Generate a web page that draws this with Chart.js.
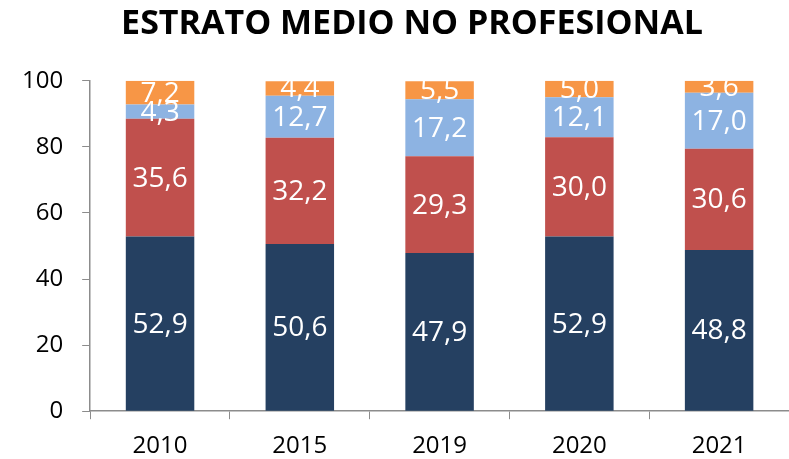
<!DOCTYPE html>
<html>
<head>
<meta charset="utf-8">
<script src="https://cdn.jsdelivr.net/npm/chart.js@4/dist/chart.umd.min.js"></script>
<style>
    html, body { margin: 0; padding: 0; background: #fff; }
    #wrap { width: 789px; height: 459px; position: relative; }
</style>
</head>
<body>
<div id="wrap"><canvas id="estratoChart"></canvas></div>
<script>
const years = ['2010', '2015', '2019', '2020', '2021'];
const serie1 = [52.9, 50.6, 47.9, 52.9, 48.8];
const serie2 = [35.6, 32.2, 29.3, 30.0, 30.6];
const serie3 = [4.3, 12.7, 17.2, 12.1, 17.0];
const serie4 = [7.2, 4.4, 5.5, 5.0, 3.6];
const yTicks = [0, 20, 40, 60, 80, 100];

const FONT = "'Open Sans', sans-serif";
const AXIS_COLOR = '#8c8c8c';

// white value labels centred in each stacked segment
const segmentLabels = {
    id: 'segmentLabels',
    afterDatasetsDraw(chart) {
        const { ctx, chartArea } = chart;
        ctx.save();
        ctx.beginPath();
        ctx.rect(chartArea.left, chartArea.top, chartArea.right - chartArea.left, chartArea.bottom - chartArea.top);
        ctx.clip();
        ctx.font = '28px ' + FONT;
        ctx.fillStyle = '#ffffff';
        ctx.textAlign = 'center';
        ctx.textBaseline = 'middle';
        chart.data.datasets.forEach((ds, i) => {
            const meta = chart.getDatasetMeta(i);
            meta.data.forEach((bar, j) => {
                const v = ds.data[j];
                const cy = (bar.y + bar.base) / 2;
                ctx.fillText(v.toFixed(1).replace('.', ','), bar.x, cy + 1);
            });
        });
        ctx.restore();
    },
};

// the title in the original sits a bit right of the canvas centre
const nudgeTitle = {
    id: 'nudgeTitle',
    afterLayout(chart) {
        if (chart.titleBlock) {
            chart.titleBlock.left += 32;
        }
    },
};

const canvas = document.getElementById('estratoChart');

new Chart(canvas, {
    type: 'bar',
    data: {
        labels: years,
        datasets: [
            { data: serie1, backgroundColor: '#254061' },
            { data: serie2, backgroundColor: '#c0504d' },
            { data: serie3, backgroundColor: '#8db3e2' },
            { data: serie4, backgroundColor: '#f79646' },
        ],
    },
    options: {
        responsive: true,
        maintainAspectRatio: false,
        animation: false,
        datasets: {
            bar: { barPercentage: 0.49, categoryPercentage: 1 },
        },
        layout: { padding: { left: 3, right: 0, top: 0, bottom: -15 } },
        plugins: {
            legend: { display: false },
            tooltip: { enabled: false },
            title: {
                display: true,
                text: 'ESTRATO MEDIO NO PROFESIONAL',
                color: '#000',
                font: { family: FONT, size: 34, weight: 'bold' },
                padding: { top: 4, bottom: 36 },
            },
        },
        scales: {
            x: {
                stacked: true,
                grid: {
                    offset: true,
                    drawOnChartArea: false,
                    tickLength: 8,
                    color: AXIS_COLOR,
                },
                border: { color: AXIS_COLOR, width: 1.5 },
                ticks: {
                    color: '#000',
                    font: { family: FONT, size: 24 },
                    padding: 13,
                },
            },
            y: {
                stacked: true,
                min: 0,
                max: 100,
                afterBuildTicks: (axis) => {
                    axis.ticks = yTicks.map((v) => ({ value: v }));
                },
                grid: {
                    drawOnChartArea: false,
                    tickLength: 8,
                    color: AXIS_COLOR,
                },
                border: { color: AXIS_COLOR, width: 1.5 },
                ticks: {
                    color: '#000',
                    font: { family: FONT, size: 24 },
                    padding: 19,
                },
            },
        },
    },
    plugins: [segmentLabels, nudgeTitle],
});
</script>
</body>
</html>
